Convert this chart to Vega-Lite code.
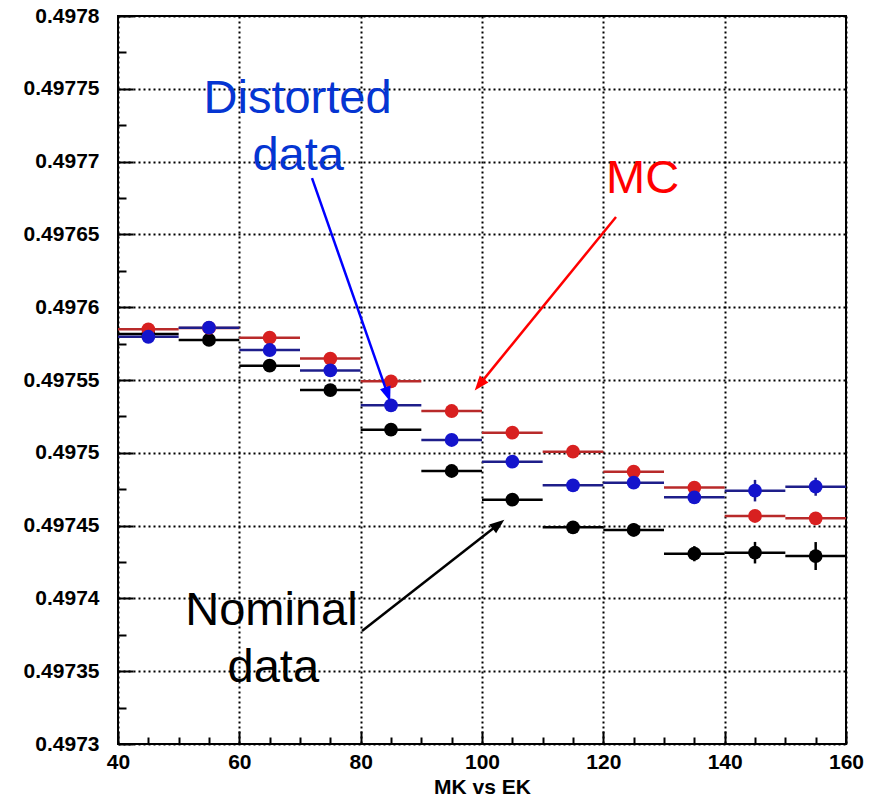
{
  "$schema": "https://vega.github.io/schema/vega-lite/v6.json",
  "width": 728,
  "height": 728,
  "autosize": {"type": "none"},
  "padding": {"left": 118, "top": 16, "right": 29, "bottom": 54},
  "background": "white",
  "config": {"view": {"stroke": "black", "strokeWidth": 2}, "font": "Liberation Sans"},
  "datasets": {
    "points": [
      {"series": "Nominal", "x": 45, "lo": 40, "hi": 50, "y": 0.4975816, "err": 0.0000025},
      {"series": "Nominal", "x": 55, "lo": 50, "hi": 60, "y": 0.4975775, "err": 0.0000025},
      {"series": "Nominal", "x": 65, "lo": 60, "hi": 70, "y": 0.4975598, "err": 0.0000025},
      {"series": "Nominal", "x": 75, "lo": 70, "hi": 80, "y": 0.4975431, "err": 0.000003},
      {"series": "Nominal", "x": 85, "lo": 80, "hi": 90, "y": 0.4975159, "err": 0.000003},
      {"series": "Nominal", "x": 95, "lo": 90, "hi": 100, "y": 0.4974875, "err": 0.000003},
      {"series": "Nominal", "x": 105, "lo": 100, "hi": 110, "y": 0.4974678, "err": 0.0000035},
      {"series": "Nominal", "x": 115, "lo": 110, "hi": 120, "y": 0.4974488, "err": 0.000004},
      {"series": "Nominal", "x": 125, "lo": 120, "hi": 130, "y": 0.497447, "err": 0.0000045},
      {"series": "Nominal", "x": 135, "lo": 130, "hi": 140, "y": 0.4974307, "err": 0.0000052},
      {"series": "Nominal", "x": 145, "lo": 140, "hi": 150, "y": 0.4974314, "err": 0.0000074},
      {"series": "Nominal", "x": 155, "lo": 150, "hi": 160, "y": 0.4974291, "err": 0.0000096},
      {"series": "MC", "x": 45, "lo": 40, "hi": 50, "y": 0.4975848, "err": 0.000002},
      {"series": "MC", "x": 55, "lo": 50, "hi": 60, "y": 0.4975858, "err": 0.000002},
      {"series": "MC", "x": 65, "lo": 60, "hi": 70, "y": 0.4975791, "err": 0.000002},
      {"series": "MC", "x": 75, "lo": 70, "hi": 80, "y": 0.4975647, "err": 0.000002},
      {"series": "MC", "x": 85, "lo": 80, "hi": 90, "y": 0.4975491, "err": 0.0000025},
      {"series": "MC", "x": 95, "lo": 90, "hi": 100, "y": 0.4975287, "err": 0.0000025},
      {"series": "MC", "x": 105, "lo": 100, "hi": 110, "y": 0.4975138, "err": 0.0000025},
      {"series": "MC", "x": 115, "lo": 110, "hi": 120, "y": 0.4975008, "err": 0.000003},
      {"series": "MC", "x": 125, "lo": 120, "hi": 130, "y": 0.497487, "err": 0.000003},
      {"series": "MC", "x": 135, "lo": 130, "hi": 140, "y": 0.4974761, "err": 0.000003},
      {"series": "MC", "x": 145, "lo": 140, "hi": 150, "y": 0.4974566, "err": 0.0000035},
      {"series": "MC", "x": 155, "lo": 150, "hi": 160, "y": 0.497455, "err": 0.0000035},
      {"series": "Distorted", "x": 45, "lo": 40, "hi": 50, "y": 0.4975797, "err": 0.000002},
      {"series": "Distorted", "x": 55, "lo": 50, "hi": 60, "y": 0.4975859, "err": 0.000002},
      {"series": "Distorted", "x": 65, "lo": 60, "hi": 70, "y": 0.4975706, "err": 0.000002},
      {"series": "Distorted", "x": 75, "lo": 70, "hi": 80, "y": 0.4975566, "err": 0.0000025},
      {"series": "Distorted", "x": 85, "lo": 80, "hi": 90, "y": 0.4975326, "err": 0.0000025},
      {"series": "Distorted", "x": 95, "lo": 90, "hi": 100, "y": 0.4975088, "err": 0.0000025},
      {"series": "Distorted", "x": 105, "lo": 100, "hi": 110, "y": 0.4974939, "err": 0.000003},
      {"series": "Distorted", "x": 115, "lo": 110, "hi": 120, "y": 0.4974777, "err": 0.000003},
      {"series": "Distorted", "x": 125, "lo": 120, "hi": 130, "y": 0.4974795, "err": 0.0000035},
      {"series": "Distorted", "x": 135, "lo": 130, "hi": 140, "y": 0.4974694, "err": 0.0000041},
      {"series": "Distorted", "x": 145, "lo": 140, "hi": 150, "y": 0.497474, "err": 0.0000074},
      {"series": "Distorted", "x": 155, "lo": 150, "hi": 160, "y": 0.4974767, "err": 0.0000062}
    ],
    "arrows": [
      {"who": "Distorted", "x": 71.98, "y": 0.4976887, "hx": 84.46, "hy": 0.4975401},
      {"who": "MC", "x": 122.09, "y": 0.497662, "hx": 99.57, "hy": 0.4975468},
      {"who": "Nominal", "x": 80.22, "y": 0.4973776, "hx": 102.72, "hy": 0.4974509}
    ],
    "notes": [
      {"who": "Distorted", "label": "Distorted", "x": 69.6, "y": 0.4977332},
      {"who": "Distorted", "label": "data", "x": 69.7, "y": 0.4976942},
      {"who": "MC", "label": "MC", "x": 126.46, "y": 0.4976784},
      {"who": "Nominal", "label": "Nominal", "x": 65.3, "y": 0.4973817},
      {"who": "Nominal", "label": "data", "x": 65.6, "y": 0.4973428}
    ]
  },
  "resolve": {
    "scale": {"color": "independent", "fill": "independent", "stroke": "independent"},
    "axis": {"x": "independent", "y": "independent"}
  },
  "layer": [
    {
      "data": {"name": "points"},
      "mark": {"type": "rule", "strokeWidth": 2.5},
      "encoding": {
        "x": {
          "field": "lo", "type": "quantitative",
          "scale": {"domain": [40, 160], "nice": false, "zero": false},
          "axis": {
            "orient": "bottom",
            "title": "MK vs EK",
            "values": [40, 60, 80, 100, 120, 140, 160],
            "labelFontWeight": "bold", "labelFontSize": 21, "labelColor": "black",
            "labelFlush": false, "labelOverlap": false, "labelPadding": 7,
            "tickColor": "black", "tickWidth": 2, "tickSize": 13, "offset": -13,
            "domain": false,
            "grid": true, "gridColor": "black", "gridDash": [2, 3], "gridWidth": 2,
            "titleFontWeight": "bold", "titleFontSize": 21, "titleColor": "black", "titlePadding": 4
          }
        },
        "x2": {"field": "hi"},
        "y": {
          "field": "y", "type": "quantitative",
          "scale": {"domain": [0.4973, 0.4978], "nice": false, "zero": false},
          "axis": {
            "orient": "left",
            "title": null,
            "values": [0.4973, 0.49735, 0.4974, 0.49745, 0.4975, 0.49755, 0.4976, 0.49765, 0.4977, 0.49775, 0.4978],
            "format": ".5~f",
            "labelFontWeight": "bold", "labelFontSize": 21, "labelColor": "black",
            "labelFlush": false, "labelOverlap": false, "labelPadding": 19,
            "tickColor": "black", "tickWidth": 2, "tickSize": 15, "offset": -15,
            "domain": false,
            "grid": true, "gridColor": "black", "gridDash": [2, 3], "gridWidth": 2
          }
        },
        "color": {"field": "series", "type": "nominal", "scale": {"domain": ["Nominal", "MC", "Distorted"], "range": ["#000000", "#b82a2a", "#1e1e8a"]}, "legend": null}
      }
    },
    {
      "data": {"name": "points"},
      "mark": {"type": "errorbar", "thickness": 2.5},
      "encoding": {
        "x": {"field": "x", "type": "quantitative", "scale": {"domain": [40, 160], "nice": false, "zero": false}, "axis": null},
        "y": {"field": "y", "type": "quantitative", "scale": {"domain": [0.4973, 0.4978], "nice": false, "zero": false}, "axis": null},
        "yError": {"field": "err"},
        "color": {"field": "series", "type": "nominal", "scale": {"domain": ["Nominal", "MC", "Distorted"], "range": ["#000000", "#b82a2a", "#1e1e8a"]}, "legend": null}
      }
    },
    {
      "data": {"name": "points"},
      "mark": {"type": "point", "filled": true, "shape": "circle", "size": 190, "opacity": 1, "strokeWidth": 0},
      "encoding": {
        "x": {
          "field": "x", "type": "quantitative",
          "scale": {"domain": [40, 160], "nice": false, "zero": false},
          "axis": {
            "orient": "bottom", "title": null, "labels": false, "grid": false, "domain": false,
            "values": [45, 50, 55, 65, 70, 75, 85, 90, 95, 105, 110, 115, 125, 130, 135, 145, 150, 155],
            "tickColor": "black", "tickWidth": 2, "tickSize": 7, "offset": -7
          }
        },
        "y": {
          "field": "y", "type": "quantitative",
          "scale": {"domain": [0.4973, 0.4978], "nice": false, "zero": false},
          "axis": {
            "orient": "left", "title": null, "labels": false, "grid": false, "domain": false,
            "values": [0.497325, 0.497375, 0.497425, 0.497475, 0.497525, 0.497575, 0.497625, 0.497675, 0.497725, 0.497775],
            "tickColor": "black", "tickWidth": 2, "tickSize": 8, "offset": -8
          }
        },
        "fill": {"field": "series", "type": "nominal", "scale": {"domain": ["Nominal", "MC", "Distorted"], "range": ["#000000", "#d82020", "#1414cc"]}, "legend": null}
      }
    },
    {
      "data": {"name": "arrows"},
      "mark": {"type": "rule", "strokeWidth": 2.5},
      "encoding": {
        "x": {"field": "x", "type": "quantitative", "scale": {"domain": [40, 160], "nice": false, "zero": false}, "axis": null},
        "y": {"field": "y", "type": "quantitative", "scale": {"domain": [0.4973, 0.4978], "nice": false, "zero": false}, "axis": null},
        "x2": {"field": "hx"},
        "y2": {"field": "hy"},
        "stroke": {"field": "who", "type": "nominal", "scale": {"domain": ["Distorted", "MC", "Nominal"], "range": ["#0000ff", "#ff0000", "#000000"]}, "legend": null}
      }
    },
    {
      "data": {"name": "arrows"},
      "transform": [{"filter": "datum.who == 'Distorted'"}],
      "mark": {"type": "point", "filled": true, "shape": "M0,-1L0.75,1L-0.75,1Z", "size": 220, "angle": 160.7, "fill": "#0000ff", "opacity": 1, "strokeWidth": 0},
      "encoding": {
        "x": {"field": "hx", "type": "quantitative", "scale": {"domain": [40, 160], "nice": false, "zero": false}, "axis": null},
        "y": {"field": "hy", "type": "quantitative", "scale": {"domain": [0.4973, 0.4978], "nice": false, "zero": false}, "axis": null}
      }
    },
    {
      "data": {"name": "arrows"},
      "transform": [{"filter": "datum.who == 'MC'"}],
      "mark": {"type": "point", "filled": true, "shape": "M0,-1L0.75,1L-0.75,1Z", "size": 220, "angle": 219.2, "fill": "#ff0000", "opacity": 1, "strokeWidth": 0},
      "encoding": {
        "x": {"field": "hx", "type": "quantitative", "scale": {"domain": [40, 160], "nice": false, "zero": false}, "axis": null},
        "y": {"field": "hy", "type": "quantitative", "scale": {"domain": [0.4973, 0.4978], "nice": false, "zero": false}, "axis": null}
      }
    },
    {
      "data": {"name": "arrows"},
      "transform": [{"filter": "datum.who == 'Nominal'"}],
      "mark": {"type": "point", "filled": true, "shape": "M0,-1L0.75,1L-0.75,1Z", "size": 220, "angle": 52.0, "fill": "#000000", "opacity": 1, "strokeWidth": 0},
      "encoding": {
        "x": {"field": "hx", "type": "quantitative", "scale": {"domain": [40, 160], "nice": false, "zero": false}, "axis": null},
        "y": {"field": "hy", "type": "quantitative", "scale": {"domain": [0.4973, 0.4978], "nice": false, "zero": false}, "axis": null}
      }
    },
    {
      "data": {"name": "notes"},
      "mark": {"type": "text", "font": "Liberation Sans", "fontSize": 47, "align": "center", "baseline": "alphabetic"},
      "encoding": {
        "x": {"field": "x", "type": "quantitative", "scale": {"domain": [40, 160], "nice": false, "zero": false}, "axis": null},
        "y": {"field": "y", "type": "quantitative", "scale": {"domain": [0.4973, 0.4978], "nice": false, "zero": false}, "axis": null},
        "text": {"field": "label"},
        "fill": {"field": "who", "type": "nominal", "scale": {"domain": ["Distorted", "MC", "Nominal"], "range": ["#0535d2", "#ff0000", "#000000"]}, "legend": null}
      }
    }
  ]
}
